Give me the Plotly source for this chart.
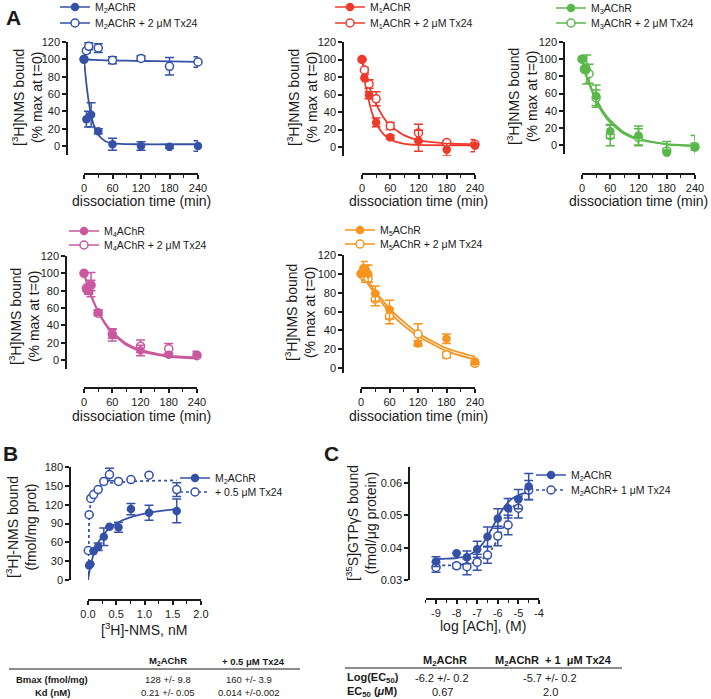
import plotly.graph_objects as go

W, H = 711, 699
FONT = "Liberation Sans, Arial, Helvetica, sans-serif"
BLUE = "#3451A7"
RED = "#EE3A2C"
GREEN = "#5AB84B"
PINK = "#C9589F"
ORANGE = "#F7941E"
INK = "#1a1a1a"

# ---------------- Panel A: dissociation data ----------------
t_pts = [0, 5, 10, 15, 30, 60, 120, 180, 240]
t_fit = [0, 5, 10, 15, 20, 30, 45, 60, 90, 120, 180, 240]

M2_t = [0, 5, 15, 30, 60, 120, 180, 240]
M2_y = [100, 31, 36, 17, 2, 0, -1, 0]
M2_e = [0, 9, 14, 3, 7, 5, 1.5, 6]
M2tx_t = [0, 5, 10, 30, 60, 120, 180, 240]
M2tx_y = [100, 110, 115, 113, 99, 101, 92, 97]
M2tx_e = [0, 3, 4, 5, 4, 3, 10, 6]
M2_fit = [100, 72, 51, 36, 25, 13, 5.5, 3, 2.2, 2, 2, 2]
M2tx_fit = [100, 99.8, 99.6, 99.5, 99.4, 99.2, 98.9, 98.8, 98.4, 98.1, 97.6, 97]

M1_t = [0, 5, 15, 30, 60, 120, 180, 240]
M1_y = [100, 79, 59, 28, 11, 7, -3, 1.5]
M1_e = [0, 4, 4, 5, 2, 12, 7, 7]
M1tx_t = [0, 5, 15, 30, 60, 120, 180, 240]
M1tx_y = [100, 88, 72, 55, 24, 16, 5, 3]
M1tx_e = [0, 3, 5, 8, 4, 10, 2, 2]
M1_fit = [100, 80.3, 64.5, 52.0, 41.5, 27.2, 15.0, 8.6, 3.7, 2.4, 2.0, 2.0]
M1tx_fit = [100, 88.6, 78.5, 69.6, 61.8, 49.2, 34.4, 24.5, 13.3, 7.8, 4.1, 3.2]

M3_t = [0, 5, 10, 30, 60, 120, 180, 240]
M3_y = [100, 89, 88, 57, 16, 11, -9, -3]
M3_e = [0, 5, 17, 13, 8, 11, 13, 14]
M3tx_t = [0, 5, 15, 30, 60, 120, 180, 240]
M3tx_y = [100, 88, 83, 55, 11, 9, -7, -2]
M3tx_e = [0, 3, 11, 9, 12, 10, 3, 4]
M3_fit = [100, 90.3, 81.5, 73.6, 66.4, 54.0, 39.0, 28.6, 14.6, 7.2, 0.8, -1.2]
M3tx_fit = [100, 89.5, 80.0, 71.6, 64.1, 51.2, 36.5, 26.0, 12.9, 6.2, 0.9, -0.5]

M4_y = [100, 81, 80, 87, 55, 29, 11, 6, 6]
M4_e = [0, 5, 3, 14, 3, 7, 6, 2, 4]
M4tx_y = [100, 83, 80, 86, 54, 30, 16, 13, 5]
M4tx_e = [0, 4, 4, 6, 3, 5, 7, 6, 3]
M4_fit = [100, 90.6, 82.1, 74.3, 67.3, 55.3, 41.3, 30.8, 17.3, 10.0, 3.7, 1.8]
M4tx_fit = [100, 90.8, 82.5, 74.9, 68.1, 56.3, 42.6, 32.4, 19.0, 11.6, 5.0, 2.8]

M5_y = [100, 106, 104, 100, 79, 62, 26, 31, 7]
M5_e = [0, 7, 5, 9, 8, 10, 3, 5, 3]
M5tx_y = [100, 98, 100, 95, 73, 55, 36, 14, 5]
M5tx_e = [0, 5, 9, 4, 7, 8, 11, 3, 2]
M5_fit = [102, 99, 95.5, 92, 88.5, 81, 72, 63, 49, 37, 21, 12]
M5tx_fit = [100, 96.5, 93, 89, 85.5, 78, 68.5, 59, 45, 34, 18, 9]

# ---------------- Panel B: saturation binding ----------------
B_x = [0.02, 0.04, 0.1, 0.18, 0.28, 0.38, 0.54, 0.76, 1.08, 1.57]
B_y = [23, 25, 46, 53, 69, 85, 84, 113, 107, 110]
B_e = [0, 0, 0, 6, 14, 0, 8, 9, 12, 19]
Btx_x = [0.005, 0.02, 0.05, 0.1, 0.18, 0.28, 0.38, 0.54, 0.76, 1.08, 1.57]
Btx_y = [47, 104, 130, 136, 144, 157, 168, 157, 160, 167, 144]
Btx_e = [0, 0, 0, 0, 0, 0, 10, 0, 0, 0, 11]
B_fit_x = [0, 0.02, 0.05, 0.1, 0.15, 0.2, 0.3, 0.4, 0.5, 0.6, 0.8, 1.0, 1.2, 1.4, 1.57]
B_fit_y = [0, 11.1, 24.6, 41.3, 53.3, 62.4, 75.3, 83.9, 90.1, 94.8, 101.4, 105.8, 108.9, 111.3, 112.9]
Btx_fit_x = [0, 0.005, 0.01, 0.02, 0.03, 0.05, 0.1, 0.2, 0.4, 0.8, 1.2, 1.57]
Btx_fit_y = [0, 42.1, 66.7, 94.1, 109.1, 125, 140.4, 149.5, 154.6, 157.2, 158.2, 158.6]

# ---------------- Panel C: GTPgS binding ----------------
C_x = [-9, -8, -7.5, -7, -6.5, -6, -5.5, -5, -4.5]
C_y = [0.0357, 0.0383, 0.0370, 0.0395, 0.0434, 0.0490, 0.0522, 0.0550, 0.0589]
C_e = [0.0015, 0, 0.002, 0.0025, 0.003, 0.003, 0.003, 0.003, 0.004]
Ctx_y = [0.0339, 0.0344, 0.0341, 0.0355, 0.0377, 0.0436, 0.0470, 0.0522, 0.0578]
Ctx_e = [0.0015, 0.0007, 0.0025, 0.0025, 0.0025, 0.003, 0.003, 0.003, 0.003]
C_fit_x = [-9, -8.5, -8, -7.5, -7, -6.75, -6.5, -6.25, -6, -5.75, -5.5, -5.25, -5, -4.75, -4.5]
C_fit_y = [0.0365, 0.0366, 0.0368, 0.0375, 0.0394, 0.0411, 0.0435, 0.0464, 0.0494,
           0.0520, 0.0540, 0.0554, 0.0562, 0.0568, 0.0571]
Ctx_fit_y = [0.0345, 0.0345, 0.0346, 0.0349, 0.0357, 0.0365, 0.0379, 0.0399, 0.0427,
             0.0461, 0.0495, 0.0526, 0.0549, 0.0565, 0.0575]
C_xtick_vals = [-9, -8, -7, -6, -5, -4]
C_xtick_text = ["-9", "-8", "-7", "-6", "-5", "-4"]

# ---------------- tables ----------------
tabB_head = ["M<sub>2</sub>AChR", "+ 0.5 μM Tx24"]
tabB_rows = [["Bmax (fmol/mg)", "128 +/- 9.8", "160 +/- 3.9"],
             ["Kd (nM)", "0.21 +/- 0.05", "0.014 +/-0.002"]]
tabC_head = ["M<sub>2</sub>AChR", "M<sub>2</sub>AChR  + 1  μM Tx24"]
tabC_rows = [["Log(EC<sub>50</sub>)", "-6.2 +/- 0.2", "-5.7 +/- 0.2"],
             ["EC<sub>50</sub> (<i>μ</i>M)", "0.67", "2.0"]]


def px(x):
    return x / W


def py(y):
    return 1 - y / H


def lin(p0, v0, p1, v1, v):
    return p0 + (v - v0) * (p1 - p0) / (v1 - v0)


fig = go.Figure()
layout = {}
annotations = []
shapes = []

# axis geometry (pixel calibration)
panels = {
    "M2": dict(i=1, xc=(84, 0, 198, 240), xr=(0, 240), xline=174, yc=(146, 0, 42, 120), yr=(-10, 120), yline=67),
    "M1": dict(i=2, xc=(362, 0, 475, 240), xr=(0, 240), xline=174, yc=(147, 0, 42, 120), yr=(-10, 120), yline=343),
    "M3": dict(i=3, xc=(582, 0, 695, 240), xr=(0, 240), xline=174, yc=(145, 0, 42, 120), yr=(-10, 120), yline=564),
    "M4": dict(i=4, xc=(84, 0, 197, 240), xr=(0, 240), xline=388, yc=(360, 0, 256, 120), yr=(-10, 120), yline=66),
    "M5": dict(i=5, xc=(361, 0, 475, 240), xr=(0, 240), xline=388, yc=(368, 0, 255, 120), yr=(-5, 120), yline=343),
    "B": dict(i=6, xc=(88, 0, 201, 2), xr=(0, 2), xline=600, yc=(580, 0, 467, 180), yr=(0, 180), yline=70),
    "C": dict(i=7, xc=(436, -9, 539, -4), xr=(-9.5, -4), xline=599, yc=(580, 0.03, 483, 0.06), yr=(0.03, 0.065), yline=409),
}

tickfont = dict(family=FONT, size=11, color=INK)
axcommon = dict(showline=True, linecolor=INK, linewidth=1.5, ticks="outside", ticklen=4,
                tickwidth=1.5, tickcolor=INK, showgrid=False, zeroline=False, tickfont=tickfont,
                fixedrange=True)

for name, p in panels.items():
    i = p["i"]
    xc, yc = p["xc"], p["yc"]
    x0 = lin(xc[0], xc[1], xc[2], xc[3], p["xr"][0])
    x1 = lin(xc[0], xc[1], xc[2], xc[3], p["xr"][1])
    y0 = lin(yc[0], yc[1], yc[2], yc[3], p["yr"][0])
    y1 = lin(yc[0], yc[1], yc[2], yc[3], p["yr"][1])
    xa = dict(axcommon, domain=[px(x0), px(x1)], range=list(p["xr"]), anchor="free",
              position=py(p["xline"]))
    ya = dict(axcommon, domain=[py(y0), py(y1)], range=list(p["yr"]), anchor="free",
              position=px(p["yline"]))
    if name.startswith("M"):
        xa.update(tickmode="linear", tick0=0, dtick=60,
                  minor=dict(ticks="outside", ticklen=3, tickwidth=1.2, tickcolor=INK, tick0=0, dtick=30))
        ya.update(tickmode="linear", tick0=0, dtick=20)
    elif name == "B":
        xa.update(tickmode="linear", tick0=0, dtick=0.5, tickformat=".1f",
                  minor=dict(ticks="outside", ticklen=3, tickwidth=1.2, tickcolor=INK, tick0=0, dtick=0.25))
        ya.update(tickmode="linear", tick0=0, dtick=30)
    else:
        xa.update(tickmode="array", tickvals=C_xtick_vals, ticktext=C_xtick_text,
                  minor=dict(ticks="outside", ticklen=3, tickwidth=1.2, tickcolor=INK, tick0=-9.5, dtick=0.5))
        ya.update(tickmode="linear", tick0=0.03, dtick=0.01, tickformat=".2f")
    sfx = "" if i == 1 else str(i)
    layout["xaxis" + sfx] = xa
    layout["yaxis" + sfx] = ya


def ax_names(i):
    return ("x" if i == 1 else "x%d" % i), ("y" if i == 1 else "y%d" % i)


legend_count = [0]
legend_layouts = {}


def add_legend_item(i, color, name, filled, dash, left_px, yc_px):
    legend_count[0] += 1
    k = legend_count[0]
    lk = "legend" if k == 1 else "legend%d" % k
    legend_layouts[lk] = dict(x=px(left_px), y=py(yc_px), xanchor="left", yanchor="middle",
                              bgcolor="rgba(0,0,0,0)", borderwidth=0,
                              font=dict(family=FONT, size=10.5, color=INK),
                              itemclick=False, itemdoubleclick=False)
    xn, yn = ax_names(i)
    mk = dict(symbol="circle", size=8.5, color=color, line=dict(width=0)) if filled else \
        dict(symbol="circle", size=8, color="white", line=dict(color=color, width=1.5))
    fig.add_trace(go.Scatter(x=[None], y=[None], mode="lines+markers", marker=mk,
                             line=dict(color=color, width=1.5, dash=dash), name=name,
                             legend=lk, showlegend=True, xaxis=xn, yaxis=yn, hoverinfo="skip"))


def add_series(i, color, x, y, e, filled):
    xn, yn = ax_names(i)
    mk = dict(symbol="circle", size=8.5, color=color, line=dict(width=0)) if filled else \
        dict(symbol="circle", size=8, color="white", line=dict(color=color, width=1.5))
    fig.add_trace(go.Scatter(x=x, y=y, mode="markers", marker=mk,
                             error_y=dict(type="data", array=e, color=color, thickness=1.5, width=4.5),
                             cliponaxis=False, showlegend=False, xaxis=xn, yaxis=yn))


def add_curve(i, color, x, y, dash="solid", shape="spline"):
    xn, yn = ax_names(i)
    fig.add_trace(go.Scatter(x=x, y=y, mode="lines",
                             line=dict(color=color, width=1.8, dash=dash, shape=shape,
                                       smoothing=0.6 if shape == "spline" else None),
                             showlegend=False, xaxis=xn, yaxis=yn, hoverinfo="skip"))


# Panel A
A_sets = [
    (1, BLUE, "2", M2_t, M2_y, M2_e, M2tx_t, M2tx_y, M2tx_e, M2_fit, M2tx_fit, 55, 7, 23),
    (2, RED, "1", M1_t, M1_y, M1_e, M1tx_t, M1tx_y, M1tx_e, M1_fit, M1tx_fit, 330, 7, 23),
    (3, GREEN, "3", M3_t, M3_y, M3_e, M3tx_t, M3tx_y, M3tx_e, M3_fit, M3tx_fit, 551, 8, 23),
    (4, PINK, "4", t_pts, M4_y, M4_e, t_pts, M4tx_y, M4tx_e, M4_fit, M4tx_fit, 64, 231, 245),
    (5, ORANGE, "5", t_pts, M5_y, M5_e, t_pts, M5tx_y, M5tx_e, M5_fit, M5tx_fit, 340, 230, 244),
]
for (i, c, sub, tx, yy, ee, ttx, yyt, eet, fit, fitt, lx, ly1, ly2) in A_sets:
    add_curve(i, c, t_fit, fit)
    add_curve(i, c, t_fit, fitt)
    add_series(i, c, ttx, yyt, eet, False)
    add_series(i, c, tx, yy, ee, True)
    add_legend_item(i, c, "M<sub>%s</sub>AChR" % sub, True, "solid", lx, ly1)
    add_legend_item(i, c, "M<sub>%s</sub>AChR + 2 μM Tx24" % sub, False, "solid", lx, ly2)

# Panel B
add_curve(6, BLUE, B_fit_x, B_fit_y, shape="spline")
add_curve(6, BLUE, Btx_fit_x, Btx_fit_y, dash="dot", shape="linear")
add_series(6, BLUE, Btx_x, Btx_y, Btx_e, False)
add_series(6, BLUE, B_x, B_y, B_e, True)
add_legend_item(6, BLUE, "M<sub>2</sub>AChR", True, "solid", 175, 478)
add_legend_item(6, BLUE, "+ 0.5 μM Tx24", False, "dot", 175, 492)

# Panel C
add_curve(7, BLUE, C_fit_x, C_fit_y)
add_curve(7, BLUE, C_fit_x, Ctx_fit_y, dash="dot")
add_series(7, BLUE, C_x, Ctx_y, Ctx_e, False)
add_series(7, BLUE, C_x, C_y, C_e, True)
add_legend_item(7, BLUE, "M<sub>2</sub>AChR", True, "solid", 531, 475)
add_legend_item(7, BLUE, "M<sub>2</sub>AChR+ 1 μM Tx24", False, "dot", 531, 490)


def ann(text, x, y, size=14, bold=False, angle=0, xanchor="center", family=FONT):
    annotations.append(dict(text=("<b>%s</b>" % text) if bold else text, x=px(x), y=py(y),
                            xref="paper", yref="paper", showarrow=False, textangle=angle,
                            xanchor=xanchor, yanchor="middle",
                            font=dict(family=family, size=size, color=INK)))


# panel letters
LETTER_FONT = "Liberation Sans Narrow, Liberation Sans, Arial, sans-serif"
ann("A", 13, 17, size=21, bold=True, family=LETTER_FONT)
ann("B", 10, 453, size=21, bold=True, family=LETTER_FONT)
ann("C", 331, 454, size=21, bold=True, family=LETTER_FONT)

# axis titles
ytA = "[<sup>3</sup>H]NMS bound<br>(% max at t=0)"
for (x, y) in [(27, 98), (302, 98), (522, 97), (24, 316), (300, 313)]:
    ann(ytA, x, y, angle=-90)
for (x, y) in [(141, 201), (418, 201), (638, 201), (141, 416), (418, 416)]:
    ann("dissociation time (min)", x, y)
ann("[<sup>3</sup>H]-NMS bound<br>(fmol/mg prot)", 21, 527, angle=-90)
ann("[<sup>3</sup>H]-NMS, nM", 144, 629)
ann("[<sup>35</sup>S]GTPγS bound<br>(fmol/μg protein)", 361, 523, angle=-90)
ann("log [ACh], (M)", 483, 626)

# table B
ann(tabB_head[0], 168, 661, size=9.5, bold=True)
ann(tabB_head[1], 253, 661, size=9.5, bold=True)
for r, yv in zip(tabB_rows, [679, 692]):
    ann(r[0], 52, yv, size=9.5, bold=True)
    ann(r[1], 168, yv, size=9.5)
    ann(r[2], 249, yv, size=9.5)
shapes.append(dict(type="line", xref="paper", yref="paper", x0=px(9), x1=px(300), y0=py(669), y1=py(669),
                   line=dict(color=INK, width=1.2)))

# table C
ann(tabC_head[0], 445, 661, size=11, bold=True)
ann(tabC_head[1], 553, 661, size=11, bold=True)
for r, yv in zip(tabC_rows, [678, 692]):
    ann(r[0], 345, yv, size=11, bold=True, xanchor="left")
    ann(r[1], 442, yv, size=11)
    ann(r[2], 550, yv, size=11)
shapes.append(dict(type="line", xref="paper", yref="paper", x0=px(345), x1=px(622), y0=py(668), y1=py(668),
                   line=dict(color=INK, width=1.2)))

fig.update_layout(width=W, height=H, margin=dict(l=0, r=0, t=0, b=0, autoexpand=False),
                  paper_bgcolor="white", plot_bgcolor="rgba(0,0,0,0)",
                  font=dict(family=FONT, color=INK), annotations=annotations, shapes=shapes,
                  hovermode=False, **layout, **legend_layouts)

fig.write_html("out.html", config={"displayModeBar": False},
               post_script="document.body.style.margin='0px';document.body.style.overflow='hidden';")
